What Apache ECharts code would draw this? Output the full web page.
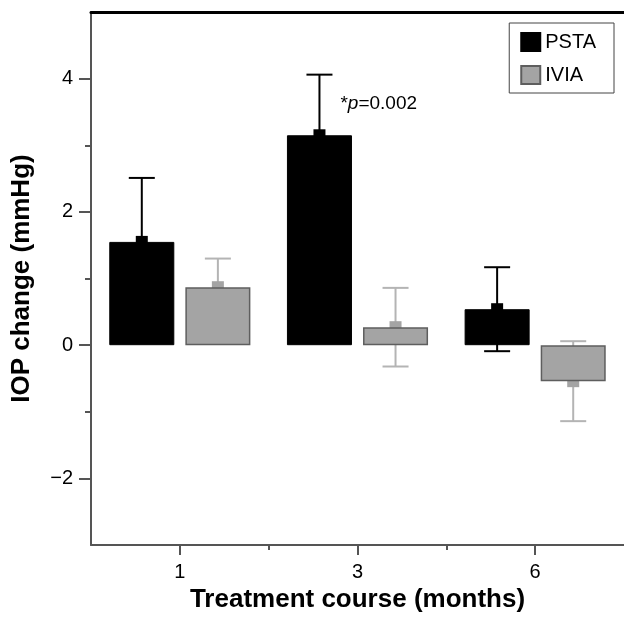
<!DOCTYPE html>
<html>
<head>
<meta charset="utf-8">
<script src="https://cdn.jsdelivr.net/npm/echarts@6/dist/echarts.min.js"></script>
<style>
html,body{margin:0;padding:0;background:#fff;}
#chart{width:624px;height:618px;}
</style>
</head>
<body>
<div id="chart"></div>
<script>
// ---- data ----
var categories = ['1', '3', '6'];
var seriesNames = ['PSTA', 'IVIA'];
var pstaMean = [1.55, 3.15, 0.54];
var pstaSD = [0.96, 0.91, 0.63];
var iviaMean = [0.87, 0.27, -0.54];
var iviaSD = [0.43, 0.59, 0.60];
var yTickValues = [-2, 0, 2, 4];
var yMinorTickValues = [-1, 1, 3];
var xBoundaryTicks = [1, 2];
var annotation = { category: 1, series: 0, text: '*p=0.002' };

var FONT = '"Liberation Sans", Arial, Helvetica, sans-serif';
var BAR_W = 0.366, BAR_GAP = 0.17;
var colors = {
  PSTA: { fill: '#000000', border: '#000000', err: '#000000' },
  IVIA: { fill: '#a4a4a4', border: '#5e5e5e', err: '#b4b4b4' }
};

function errData(means, sds) {
  return means.map(function (m, i) { return [i, m, sds[i]]; });
}

function makeErrRender(seriesIdx, col) {
  return function (params, api) {
    var ci = api.value(0), m = api.value(1), sd = api.value(2);
    var band = api.size([1, 0])[0];
    var bw = band * BAR_W, gap = bw * BAR_GAP;
    var off = (seriesIdx === 0 ? -1 : 1) * (bw + gap) / 2;
    var c = api.coord([ci, m]);
    var x = c[0] + off;
    var yHi = api.coord([ci, m + sd])[1];
    var yLo = api.coord([ci, m - sd])[1];
    var cap = bw * 0.4;
    var mk = 12;
    var lineStyle = { stroke: col.err, lineWidth: 2 };
    var children = [
      { type: 'line', shape: { x1: x, y1: yHi, x2: x, y2: yLo }, style: lineStyle },
      { type: 'line', shape: { x1: x - cap / 2, y1: yHi, x2: x + cap / 2, y2: yHi }, style: lineStyle },
      { type: 'line', shape: { x1: x - cap / 2, y1: yLo, x2: x + cap / 2, y2: yLo }, style: lineStyle },
      { type: 'rect', shape: { x: x - mk / 2, y: c[1] - mk / 2, width: mk, height: mk }, style: { fill: col.fill } }
    ];
    if (annotation.series === seriesIdx && annotation.category === ci) {
      children.push({
        type: 'text',
        x: x + 21, y: yHi + 29,
        style: {
          text: '{n|*}{i|p}{n|=0.002}',
          verticalAlign: 'middle', align: 'left',
          rich: {
            n: { fontSize: 19, fontFamily: FONT, fill: '#000' },
            i: { fontSize: 19, fontFamily: FONT, fontStyle: 'italic', fill: '#000' }
          }
        }
      });
    }
    return { type: 'group', children: children };
  };
}

var chart = echarts.init(document.getElementById('chart'));
chart.setOption({
  backgroundColor: '#ffffff',
  animation: false,
  grid: { left: 91, right: 0, top: 12, bottom: 72, containLabel: false },
  legend: {
    data: seriesNames,
    orient: 'vertical',
    right: 10, top: 23,
    icon: 'rect',
    itemWidth: 19, itemHeight: 18, itemGap: 13,
    padding: [9, 18, 8, 11],
    borderColor: '#444', borderWidth: 1,
    textStyle: { fontSize: 20, fontFamily: FONT, color: '#000' }
  },
  xAxis: [
    {
      type: 'category', data: categories, position: 'bottom',
      axisLine: { onZero: false, lineStyle: { color: '#555', width: 2 } },
      axisTick: { show: true, alignWithLabel: true, interval: 0, length: 10, lineStyle: { color: '#555', width: 2 } },
      axisLabel: { fontSize: 20, fontFamily: FONT, color: '#000', margin: 17 },
      name: 'Treatment course (months)', nameLocation: 'middle', nameGap: 37,
      nameTextStyle: { fontSize: 26, fontWeight: 'bold', fontFamily: FONT, color: '#000' },
      splitLine: { show: false }
    },
    {
      type: 'value', min: 0, max: 3, position: 'bottom',
      axisLine: { show: false, onZero: false },
      axisTick: { show: true, customValues: xBoundaryTicks, length: 5, lineStyle: { color: '#555', width: 2 } },
      axisLabel: { show: false }, splitLine: { show: false }
    },
    {
      type: 'category', data: categories, position: 'top',
      axisLine: { onZero: false, lineStyle: { color: '#000', width: 3 } },
      axisTick: { show: false }, axisLabel: { show: false }, splitLine: { show: false }
    }
  ],
  yAxis: [
    {
      type: 'value', min: -3, max: 5, position: 'left',
      axisLine: { show: true, onZero: false, lineStyle: { color: '#555', width: 2 } },
      axisTick: { show: true, customValues: yTickValues, length: 12, lineStyle: { color: '#555', width: 2 } },
      axisLabel: {
        customValues: yTickValues, fontSize: 20, fontFamily: FONT, color: '#000', margin: 18,
        formatter: function (v) { return v < 0 ? '\u2212' + Math.abs(v) : String(v); }
      },
      splitLine: { show: false },
      name: 'IOP change (mmHg)', nameLocation: 'middle', nameGap: 56,
      nameTextStyle: { fontSize: 26, fontWeight: 'bold', fontFamily: FONT, color: '#000' }
    },
    {
      type: 'value', min: -3, max: 5, position: 'left',
      axisLine: { show: false, onZero: false },
      axisTick: { show: true, customValues: yMinorTickValues, length: 6, lineStyle: { color: '#555', width: 2 } },
      axisLabel: { show: false }, splitLine: { show: false }
    }
  ],
  series: [
    {
      name: 'PSTA', type: 'bar', data: pstaMean, xAxisIndex: 0, yAxisIndex: 0,
      barWidth: (BAR_W * 100) + '%', barGap: (BAR_GAP * 100) + '%', z: 3,
      itemStyle: { color: colors.PSTA.fill, borderColor: colors.PSTA.border, borderWidth: 1 }
    },
    {
      name: 'IVIA', type: 'bar', data: iviaMean, xAxisIndex: 0, yAxisIndex: 0,
      barWidth: (BAR_W * 100) + '%', barGap: (BAR_GAP * 100) + '%', z: 3,
      itemStyle: { color: colors.IVIA.fill, borderColor: colors.IVIA.border, borderWidth: 1.5 }
    },
    {
      name: 'PSTA SD', type: 'custom', xAxisIndex: 0, yAxisIndex: 0, z: 2,
      data: errData(pstaMean, pstaSD), renderItem: makeErrRender(0, colors.PSTA),
      encode: { x: 0, y: 1 }
    },
    {
      name: 'IVIA SD', type: 'custom', xAxisIndex: 0, yAxisIndex: 0, z: 2,
      data: errData(iviaMean, iviaSD), renderItem: makeErrRender(1, colors.IVIA),
      encode: { x: 0, y: 1 }
    }
  ]
});
</script>
</body>
</html>
